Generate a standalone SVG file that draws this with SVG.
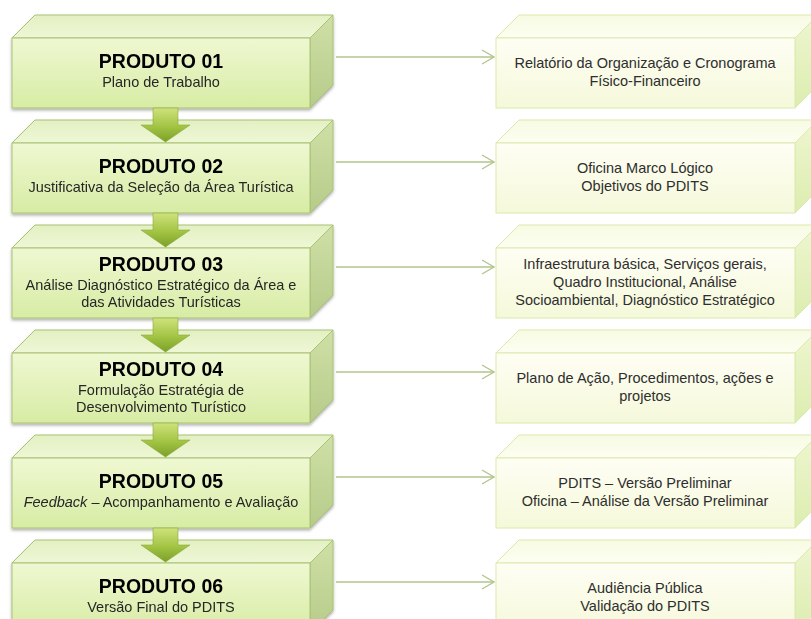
<svg xmlns="http://www.w3.org/2000/svg" width="811" height="619" viewBox="0 0 811 619">
<defs>
<style>
.title{font-family:"Liberation Sans",Arial,sans-serif;font-weight:bold;font-size:19.5px;fill:#000;text-anchor:middle}
.sub{font-family:"Liberation Sans",Arial,sans-serif;font-size:14.5px;fill:#262626;text-anchor:middle}
.rt{font-family:"Liberation Sans",Arial,sans-serif;font-size:14.5px;fill:#2e2e2e;text-anchor:middle}
.lf{fill:url(#lFront);stroke:#a9c273;stroke-width:1}
.lt{fill:url(#lTop);stroke:#a9c273;stroke-width:1}
.ls{fill:url(#lSide);stroke:#a9c273;stroke-width:1}
.rf{fill:url(#rFront);stroke:#dbe9ad;stroke-width:1}
.rtop{fill:url(#rTop);stroke:#dbe9ad;stroke-width:1}
.rs{fill:url(#rSide);stroke:#dbe9ad;stroke-width:1}
.conn{stroke:#b2c58c;stroke-width:1.3;fill:none;marker-end:url(#chev)}
.darr{fill:url(#aGrad);stroke:#8aa83a;stroke-width:0.6}
</style>
<linearGradient id="lFront" x1="0" y1="0" x2="0" y2="1">
<stop offset="0" stop-color="#eff8d2"/><stop offset="1" stop-color="#d7eca4"/>
</linearGradient>
<linearGradient id="lTop" x1="0" y1="0" x2="0" y2="1">
<stop offset="0" stop-color="#e3f0c2"/><stop offset="1" stop-color="#eef7d6"/>
</linearGradient>
<linearGradient id="lSide" x1="0" y1="0" x2="0" y2="1">
<stop offset="0" stop-color="#cfe0a6"/><stop offset="1" stop-color="#b6cb8a"/>
</linearGradient>
<linearGradient id="rFront" x1="0" y1="0" x2="0" y2="1">
<stop offset="0" stop-color="#fefef4"/><stop offset="1" stop-color="#f5f9da"/>
</linearGradient>
<linearGradient id="rTop" x1="0" y1="0" x2="0" y2="1">
<stop offset="0" stop-color="#f7fbe2"/><stop offset="1" stop-color="#fdfef2"/>
</linearGradient>
<linearGradient id="rSide" x1="0" y1="0" x2="0" y2="1">
<stop offset="0" stop-color="#eef6cf"/><stop offset="1" stop-color="#dcedb0"/>
</linearGradient>
<linearGradient id="aGrad" x1="0" y1="0" x2="0" y2="1">
<stop offset="0" stop-color="#cfe27c"/><stop offset="0.55" stop-color="#a2c443"/><stop offset="1" stop-color="#7c9f2a"/>
</linearGradient>
<filter id="shd" x="-5%" y="-10%" width="110%" height="130%">
<feDropShadow dx="0" dy="2" stdDeviation="1.5" flood-color="#000" flood-opacity="0.3"/>
</filter>
<marker id="chev" viewBox="0 0 14 16" markerWidth="14" markerHeight="16" refX="13" refY="8" orient="auto" markerUnits="userSpaceOnUse">
<path d="M1,1 L13,8 L1,15" fill="none" stroke="#b2c58c" stroke-width="1.3"/>
</marker>
</defs>
<rect width="811" height="619" fill="#ffffff"/>

<g id="connectors">
<line class="conn" x1="336" y1="57" x2="494" y2="57"/>
<line class="conn" x1="336" y1="162" x2="494" y2="162"/>
<line class="conn" x1="336" y1="267" x2="494" y2="267"/>
<line class="conn" x1="336" y1="372" x2="494" y2="372"/>
<line class="conn" x1="336" y1="477" x2="494" y2="477"/>
<line class="conn" x1="336" y1="582" x2="494" y2="582"/>
</g>

<g id="p1" filter="url(#shd)">
<polygon class="lt" points="12,38 35,15 333,15 310,38"/>
<polygon class="ls" points="310,38 333,15 333,85 310,108"/>
<rect class="lf" x="12" y="38" width="298" height="70"/>
<text class="title" x="161" y="68">PRODUTO 01</text>
<text class="sub" x="161" y="87">Plano de Trabalho</text>
</g>
<g id="p2" filter="url(#shd)">
<polygon class="lt" points="12,143 35,120 333,120 310,143"/>
<polygon class="ls" points="310,143 333,120 333,190 310,213"/>
<rect class="lf" x="12" y="143" width="298" height="70"/>
<text class="title" x="161" y="173">PRODUTO 02</text>
<text class="sub" x="161" y="192">Justificativa da Seleção da Área Turística</text>
</g>
<g id="p3" filter="url(#shd)">
<polygon class="lt" points="12,248 35,225 333,225 310,248"/>
<polygon class="ls" points="310,248 333,225 333,295 310,318"/>
<rect class="lf" x="12" y="248" width="298" height="70"/>
<text class="title" x="161" y="271">PRODUTO 03</text>
<text class="sub" x="161" y="290">Análise Diagnóstico Estratégico da Área e</text>
<text class="sub" x="161" y="307">das Atividades Turísticas</text>
</g>
<g id="p4" filter="url(#shd)">
<polygon class="lt" points="12,353 35,330 333,330 310,353"/>
<polygon class="ls" points="310,353 333,330 333,400 310,423"/>
<rect class="lf" x="12" y="353" width="298" height="70"/>
<text class="title" x="161" y="376">PRODUTO 04</text>
<text class="sub" x="161" y="395">Formulação Estratégia de</text>
<text class="sub" x="161" y="412">Desenvolvimento Turístico</text>
</g>
<g id="p5" filter="url(#shd)">
<polygon class="lt" points="12,458 35,435 333,435 310,458"/>
<polygon class="ls" points="310,458 333,435 333,505 310,528"/>
<rect class="lf" x="12" y="458" width="298" height="70"/>
<text class="title" x="161" y="488">PRODUTO 05</text>
<text class="sub" x="161" y="507"><tspan font-style="italic">Feedback</tspan> – Acompanhamento e Avaliação</text>
</g>
<g id="p6" filter="url(#shd)">
<polygon class="lt" points="12,563 35,540 333,540 310,563"/>
<polygon class="ls" points="310,563 333,540 333,610 310,633"/>
<rect class="lf" x="12" y="563" width="298" height="70"/>
<text class="title" x="161" y="593">PRODUTO 06</text>
<text class="sub" x="161" y="612">Versão Final do PDITS</text>
</g>

<g id="flow-arrows">
<polygon class="darr" points="153,108 178,108 178,125 190,125 165.5,142 141,125 153,125"/>
<polygon class="darr" points="153,213 178,213 178,230 190,230 165.5,247 141,230 153,230"/>
<polygon class="darr" points="153,318 178,318 178,335 190,335 165.5,352 141,335 153,335"/>
<polygon class="darr" points="153,423 178,423 178,440 190,440 165.5,457 141,440 153,440"/>
<polygon class="darr" points="153,528 178,528 178,545 190,545 165.5,562 141,545 153,545"/>
</g>

<g id="r1">
<polygon class="rtop" points="496,38 519,15 818,15 795,38"/>
<polygon class="rs" points="795,38 818,15 818,85 795,108"/>
<rect class="rf" x="496" y="38" width="299" height="70"/>
<text class="rt" x="645" y="68">Relatório da Organização e Cronograma</text>
<text class="rt" x="645" y="86">Físico-Financeiro</text>
</g>
<g id="r2">
<polygon class="rtop" points="496,143 519,120 818,120 795,143"/>
<polygon class="rs" points="795,143 818,120 818,190 795,213"/>
<rect class="rf" x="496" y="143" width="299" height="70"/>
<text class="rt" x="645" y="173">Oficina Marco Lógico</text>
<text class="rt" x="645" y="191">Objetivos do PDITS</text>
</g>
<g id="r3">
<polygon class="rtop" points="496,248 519,225 818,225 795,248"/>
<polygon class="rs" points="795,248 818,225 818,295 795,318"/>
<rect class="rf" x="496" y="248" width="299" height="70"/>
<text class="rt" x="645" y="269">Infraestrutura básica, Serviços gerais,</text>
<text class="rt" x="645" y="287">Quadro Institucional, Análise</text>
<text class="rt" x="645" y="305">Socioambiental, Diagnóstico Estratégico</text>
</g>
<g id="r4">
<polygon class="rtop" points="496,353 519,330 818,330 795,353"/>
<polygon class="rs" points="795,353 818,330 818,400 795,423"/>
<rect class="rf" x="496" y="353" width="299" height="70"/>
<text class="rt" x="645" y="383">Plano de Ação, Procedimentos, ações e</text>
<text class="rt" x="645" y="401">projetos</text>
</g>
<g id="r5">
<polygon class="rtop" points="496,458 519,435 818,435 795,458"/>
<polygon class="rs" points="795,458 818,435 818,505 795,528"/>
<rect class="rf" x="496" y="458" width="299" height="70"/>
<text class="rt" x="645" y="488">PDITS – Versão Preliminar</text>
<text class="rt" x="645" y="506">Oficina – Análise da Versão Preliminar</text>
</g>
<g id="r6">
<polygon class="rtop" points="496,563 519,540 818,540 795,563"/>
<polygon class="rs" points="795,563 818,540 818,610 795,633"/>
<rect class="rf" x="496" y="563" width="299" height="70"/>
<text class="rt" x="645" y="593">Audiência Pública</text>
<text class="rt" x="645" y="611">Validação do PDITS</text>
</g>
</svg>
